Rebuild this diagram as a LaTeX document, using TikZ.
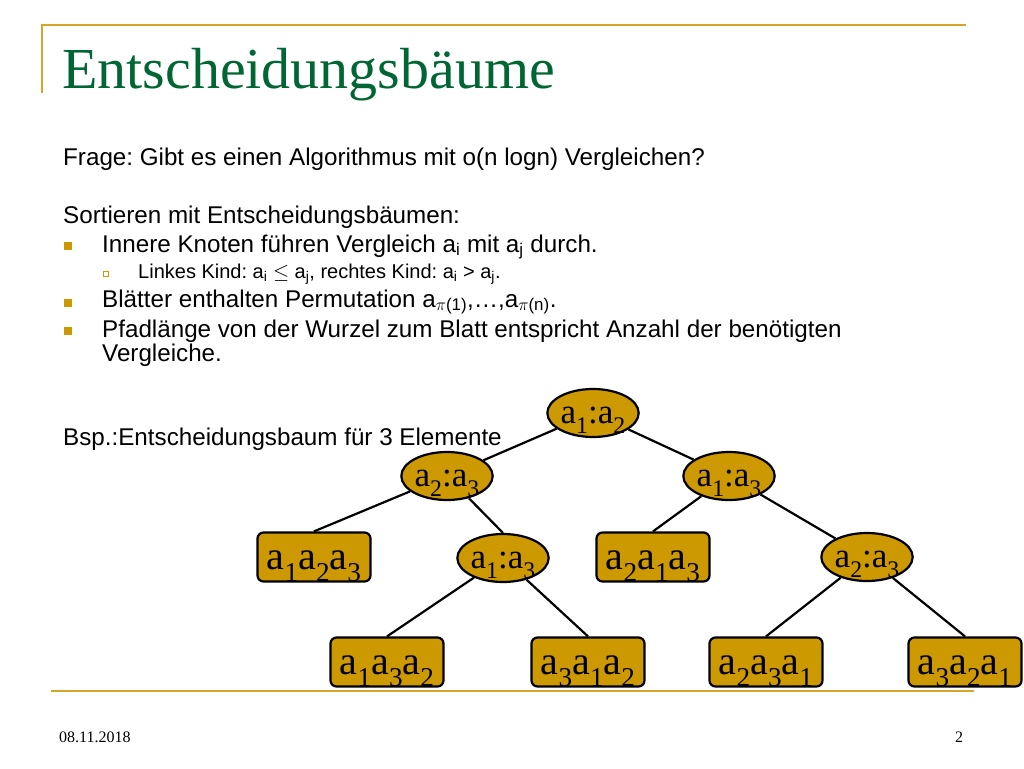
\documentclass[tikz,border=0pt]{standalone}
\usepackage{fontspec}
\setmainfont{Liberation Serif}
\setsansfont{Liberation Sans}
\usepackage{tikz}
\usetikzlibrary{shapes.geometric}
\definecolor{gold}{RGB}{204,153,0}
\definecolor{linie}{RGB}{214,166,40}
\definecolor{titelgruen}{RGB}{0,102,51}
\newcommand{\ix}[1]{\raisebox{-0.3em}{\scalebox{0.68}{#1}}}
\frenchspacing

\begin{document}
\begin{tikzpicture}[x=1pt, y=-1pt, every node/.style={inner sep=0pt},
zeile/.style={anchor=base west, font=\sffamily\fontsize{24.2}{22}\selectfont},
unterzeile/.style={anchor=base west, font=\sffamily\fontsize{20}{20}\selectfont},
vergleich/.style={ellipse, draw, fill=gold, line width=2.2pt, minimum width=89pt, minimum height=48pt, text height=20pt, text depth=0pt, font=\fontsize{35}{35}\selectfont},
blatt/.style={draw, fill=gold, rounded corners=6pt, line width=2.2pt, minimum width=113pt, minimum height=49pt, text height=25pt, text depth=0pt, font=\fontsize{40}{40}\selectfont},
kante/.style={line width=2.2pt}]

\fill[white] (0,0) rectangle (1024,768);
\useasboundingbox (0,0) rectangle (1024,768);

\draw[linie, line width=2pt] (42,93) -- (42,25) -- (966,25);
\draw[linie, line width=2pt] (51,691) -- (974,691);

\node[anchor=base west, text=titelgruen, font=\fontsize{58}{58}\selectfont] (titel) at (62,88) {Entscheidungsbäume};

\node[zeile] (frage) at (63,165) {Frage: Gibt es einen Algorithmus mit o(n logn) Vergleichen?};
\node[zeile] (sortieren) at (63,223) {Sortieren mit Entscheidungsbäumen:};
\node[zeile] (innere) at (102,252) {Innere Knoten führen Vergleich a\textsubscript{i} mit a\textsubscript{j} durch.};
\node[unterzeile] (kind) at (138,278) {Linkes Kind: a\textsubscript{i} $\leq$ a\textsubscript{j}, rechtes Kind: a\textsubscript{i} > a\textsubscript{j}.};
\node[zeile] (blaetter) at (102,307) {Blätter enthalten Permutation a\textsubscript{$\pi$(1)},…,a\textsubscript{$\pi$(n)}.};
\node[zeile, anchor=north west, align=left] (pfad) at (102,320) {Pfadlänge von der Wurzel zum Blatt entspricht Anzahl der benötigten\\Vergleiche.};
\node[zeile] (bsp) at (63,445) {Bsp.:Entscheidungsbaum für 3 Elemente};

\foreach \y in {246,303,331} \fill[gold] (64,\y-4) rectangle (72,\y+4);
\draw[gold, line width=0.8pt] (103.5,271.5) rectangle (108.5,276.5);

\node[vergleich] (w) at (593,413) {a\ix{1}:a\ix{2}};
\node[vergleich] (k1) at (447,476) {a\ix{2}:a\ix{3}};
\node[vergleich] (k2) at (729,476) {a\ix{1}:a\ix{3}};
\node[blatt] (b123) at (314,557) {a\ix{1}a\ix{2}a\ix{3}};
\node[vergleich] (k3) at (503,558) {a\ix{1}:a\ix{3}};
\node[blatt] (b213) at (653,557) {a\ix{2}a\ix{1}a\ix{3}};
\node[vergleich] (k4) at (867,557) {a\ix{2}:a\ix{3}};
\node[blatt] (b132) at (387,662) {a\ix{1}a\ix{3}a\ix{2}};
\node[blatt] (b312) at (588,662) {a\ix{3}a\ix{1}a\ix{2}};
\node[blatt] (b231) at (766,662) {a\ix{2}a\ix{3}a\ix{1}};
\node[blatt] (b321) at (965,662) {a\ix{3}a\ix{2}a\ix{1}};

\draw[kante] (w) -- (k1);
\draw[kante] (w) -- (k2);
\draw[kante] (k1) -- (b123.north);
\draw[kante] (k1) -- (k3.north);
\draw[kante] (k2) -- (b213.north);
\draw[kante] (k2) -- (k4);
\draw[kante] (k3) -- (b132.north);
\draw[kante] (k3) -- (b312.north);
\draw[kante] (k4) -- (b231.north);
\draw[kante] (k4) -- (b321.north);

\node[anchor=base west, font=\fontsize{16}{16}\selectfont] (datum) at (59,742) {08.11.2018};
\node[anchor=base, font=\fontsize{16}{16}\selectfont] (seite) at (959,742) {2};
\end{tikzpicture}
\end{document}
